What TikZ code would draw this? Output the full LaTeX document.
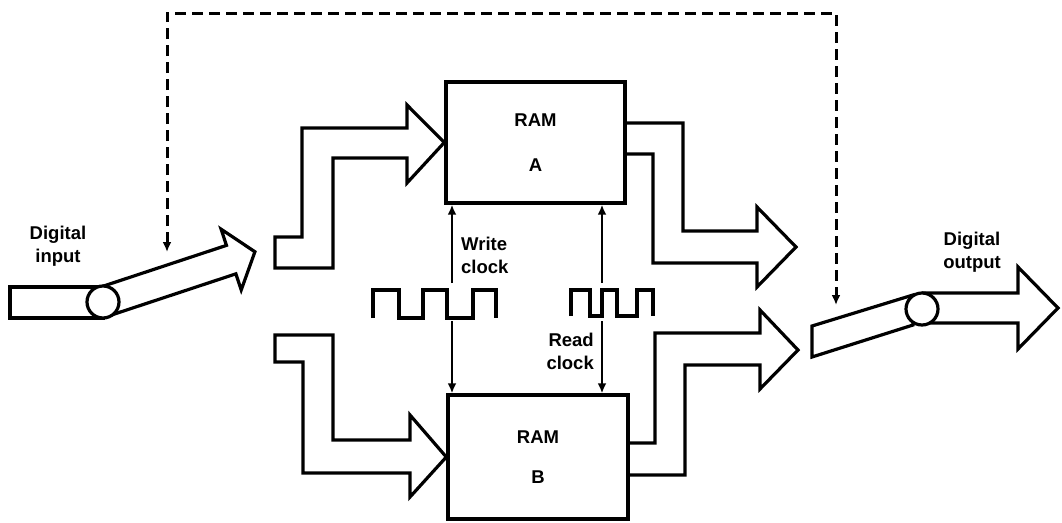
\documentclass[tikz,border=0pt]{standalone}
\usepackage{fontspec}
\setmainfont{Liberation Sans}
\usetikzlibrary{arrows.meta,positioning,calc}

\begin{document}
\begin{tikzpicture}[x=1pt,y=-1pt,
  lbl/.style={font=\fontsize{18.5}{23}\selectfont\bfseries,inner sep=0pt},
  ram/.style={draw,line width=3.4pt,fill=white,align=center,inner sep=0pt,font=\fontsize{18.5}{23}\selectfont\bfseries},
  bus/.style={draw,line width=3.2pt,fill=white,line join=miter},
  wave/.style={line width=3.2pt,line join=miter},
  ar/.style={-{Latex[length=10pt,width=9pt]},line width=2.4pt},
  fb/.style={{Latex[length=10pt,width=9pt]}-{Latex[length=10pt,width=9pt]},line width=3pt,dash pattern=on 11pt off 6pt}]

\useasboundingbox (0,0) rectangle (1062,522);

% memories
\node[ram,minimum width=179pt,minimum height=121pt] (ramA) at (535.5,142.5) {RAM\\[22pt]A};
\node[ram,minimum width=180pt,minimum height=124pt] (ramB) at (538,457) {RAM\\[17pt]B};

% input buses
\draw[bus] (275,237) -- (302,237) -- (302,128) -- (407,128) -- (407,105) -- (ramA.west)
  -- (407,183) -- (407,158) -- (333,158) -- (333,268) -- (275,268) -- cycle;
\draw[bus] (275,335) -- (333,335) -- (333,440) -- (410,440) -- (410,415) -- (ramB.west)
  -- (410,497) -- (410,473) -- (303,473) -- (303,362) -- (275,362) -- cycle;

% output buses
\draw[bus] (ramA.east |- 0,123) -- (683,123) -- (683,231) -- (757,231) -- (757,207) -- (796,247)
  -- (757,287) -- (757,263) -- (653,263) -- (653,154) -- (ramA.east |- 0,154);
\draw[bus] (ramB.east |- 0,443) -- (655,443) -- (655,333) -- (760,333) -- (760,310) -- (798,350)
  -- (760,389) -- (760,365) -- (685,365) -- (685,475) -- (ramB.east |- 0,475);
\node[ram,minimum width=179pt,minimum height=121pt] at (ramA) {RAM\\[22pt]A};
\node[ram,minimum width=180pt,minimum height=124pt] at (ramB) {RAM\\[17pt]B};

% digital input
\draw[bus] (10,287) rectangle (103,318);
\begin{scope}[shift={(103,302)},rotate=18.3]
  \draw[bus] (0,-15) -- (135,-15) -- (135,-32) -- (160,0) -- (135,32) -- (135,15) -- (0,15);
\end{scope}
\draw[bus] (103,302) circle (16);
\node[lbl,align=center] (din) at (58,246) {Digital\\input};

% digital output
\draw[bus] (922,293) -- (1018,293) -- (1018,267) -- (1058,308) -- (1018,349) -- (1018,323) -- (922,323);
\draw[bus] (812,326) -- (913,295) -- (913,325) -- (812,357) -- cycle;
\draw[bus] (922,309) circle (16);
\node[lbl,align=center] (dout) at (972,252) {Digital\\output};

% clocks
\draw[wave] (373,318) -- (373,290) -- (399,290) -- (399,318) -- (423,318) -- (423,290) -- (447,290)
  -- (447,318) -- (473,318) -- (473,290) -- (496,290) -- (496,318);
\draw[wave] (571,316) -- (571,290) -- (590,290) -- (590,316) -- (602,316) -- (602,290) -- (617,290)
  -- (617,316) -- (637,316) -- (637,290) -- (653,290) -- (653,316);
\coordinate (wrA) at (452,283);
\coordinate (wrB) at (452,321);
\coordinate (rdA) at (602,283);
\coordinate (rdB) at (602,321);
\draw[ar] (wrA) -- (wrA |- ramA.south);
\draw[ar] (wrB) -- (wrB |- ramB.north);
\draw[ar] (rdA) -- (rdA |- ramA.south);
\draw[ar] (rdB) -- (rdB |- ramB.north);
\node[lbl,align=left,anchor=west] (wlbl) at (461,255) {Write\\clock};
\node[lbl,align=right,anchor=east] (rlbl) at (594,351) {Read\\clock};

% feedback path
\coordinate (fbin) at (167,252);
\coordinate (fbtop) at (500,13);
\coordinate (fbout) at (836,305);
\draw[fb] (fbin) |- (fbtop) -| (fbout);
\end{tikzpicture}
\end{document}
